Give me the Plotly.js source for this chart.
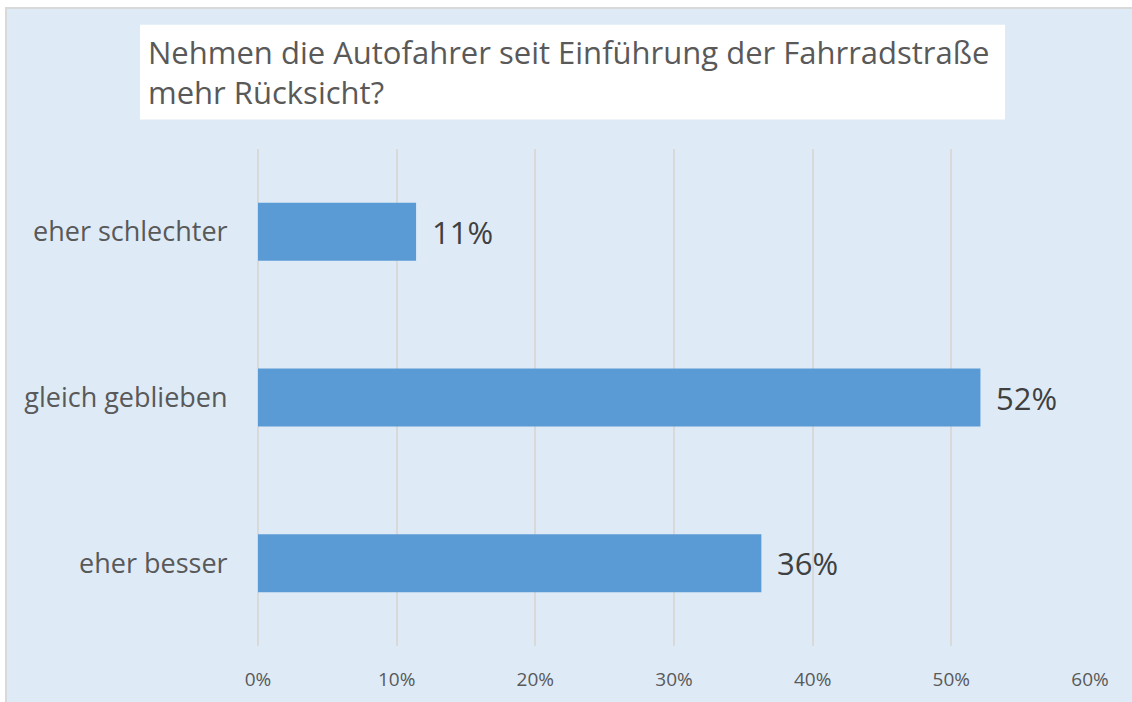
<!DOCTYPE html>
<html>
<head>
<meta charset="utf-8">
<script src="https://cdn.plot.ly/plotly-3.0.1.min.js"></script>
<style>
  html, body { margin: 0; padding: 0; background: #ffffff; width: 1132px; height: 702px; overflow: hidden; }
  #chart { position: absolute; left: 5px; top: 7px; width: 1125px; height: 693px;
           border-top: 2px solid #D9D9D9; border-left: 2px solid #D9D9D9; }
</style>
</head>
<body>
<div id="chart"></div>
<script>
const categories = ['eher schlechter', 'gleich geblieben', 'eher besser'];
const values = [11.4, 52.1, 36.3];
const xTicks = [0, 10, 20, 30, 40, 50, 60];
const titleText = 'Nehmen die Autofahrer seit Einführung der Fahrradstraße<br>mehr Rücksicht?';

const W = 1125, H = 693;
const L = 251, R = 42, T = 139.5, B = 56;
const pw = W - L - R, ph = H - T - B;
const FONT = '"Open Sans", "Segoe UI", sans-serif';

const trace = {
  type: 'bar',
  orientation: 'h',
  x: values,
  y: categories,
  marker: { color: '#5B9BD5', line: { width: 0 } },
  hoverinfo: 'none'
};

const labels = values.map((v, i) => ({
  x: v, y: categories[i], xref: 'x', yref: 'y',
  text: Math.round(v) + '%', showarrow: false,
  xanchor: 'left', yanchor: 'middle', xshift: 14,
  font: { family: FONT, size: 31, color: '#404040' }
}));

const titleAnn = {
  text: titleText, showarrow: false,
  xref: 'paper', yref: 'paper',
  x: (139 - L) / pw, xanchor: 'left',
  y: (H - B - 62) / ph, yanchor: 'middle',
  align: 'left',
  font: { family: FONT, size: 31, color: '#595959' }
};

const layout = {
  width: W, height: H,
  margin: { l: L, r: R, t: T, b: B, pad: 0 },
  paper_bgcolor: '#DEEBF7',
  plot_bgcolor: '#DEEBF7',
  bargap: 0.65,
  showlegend: false,
  font: { family: FONT, color: '#595959' },
  xaxis: {
    range: [0, 60],
    tickvals: xTicks,
    ticktext: xTicks.map(t => t + '%'),
    showgrid: true, gridcolor: '#D9D9D9', gridwidth: 2,
    zeroline: true, zerolinecolor: '#D9D9D9', zerolinewidth: 2,
    showline: false,
    ticks: 'outside', ticklen: 16, tickcolor: 'rgba(0,0,0,0)',
    tickfont: { family: FONT, size: 19, color: '#595959' },
    fixedrange: true
  },
  yaxis: {
    autorange: 'reversed',
    showgrid: false, zeroline: false, showline: false,
    ticks: 'outside', ticklen: 24, tickcolor: 'rgba(0,0,0,0)',
    tickfont: { family: FONT, size: 27, color: '#595959' },
    fixedrange: true
  },
  shapes: [{
    type: 'rect', xref: 'paper', yref: 'paper', layer: 'below',
    x0: (133 - L) / pw, x1: (998 - L) / pw,
    y0: (H - B - 110) / ph, y1: (H - B - 15) / ph,
    fillcolor: '#FFFFFF', line: { width: 0 }
  }],
  annotations: [titleAnn].concat(labels)
};

Plotly.newPlot('chart', [trace], layout, { displayModeBar: false, staticPlot: true });
</script>
</body>
</html>
